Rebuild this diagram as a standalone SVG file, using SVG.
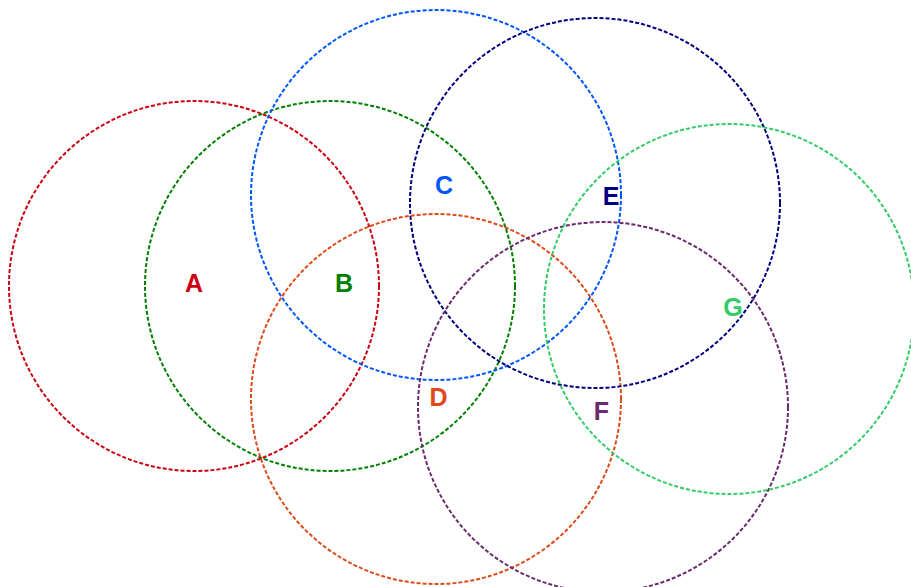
<svg xmlns="http://www.w3.org/2000/svg" width="911" height="587" viewBox="0 0 911 587">
<style>
.c{fill:none;stroke-width:2;stroke-dasharray:4 2}
.t{font-family:"Liberation Sans",Arial,sans-serif;font-weight:bold;font-size:25px;text-anchor:middle}
</style>
<rect width="911" height="587" fill="#fff"/>
<g id="A"><circle class="c" cx="194" cy="286" r="185" stroke="#cc0011"/><text class="t" x="194" y="292" fill="#cc0011">A</text></g>
<g id="B"><circle class="c" cx="330" cy="286" r="185" stroke="#008000"/><text class="t" x="344" y="292" fill="#008000">B</text></g>
<g id="C"><circle class="c" cx="436" cy="195" r="185" stroke="#0055ff"/><text class="t" x="444" y="194" fill="#0055ff">C</text></g>
<g id="D"><circle class="c" cx="436" cy="399" r="185" stroke="#e04a1a"/><text class="t" x="438.5" y="406" fill="#e04a1a">D</text></g>
<g id="E"><circle class="c" cx="595" cy="203" r="185" stroke="#000080"/><text class="t" x="611" y="205" fill="#000080">E</text></g>
<g id="F"><circle class="c" cx="603" cy="407" r="185" stroke="#6a2a6e"/><text class="t" x="601.5" y="420" fill="#6a2a6e">F</text></g>
<g id="G"><circle class="c" cx="729" cy="309" r="185" stroke="#33cc66"/><text class="t" x="733" y="316" fill="#33cc66">G</text></g>
<g id="connectors"/>
</svg>
